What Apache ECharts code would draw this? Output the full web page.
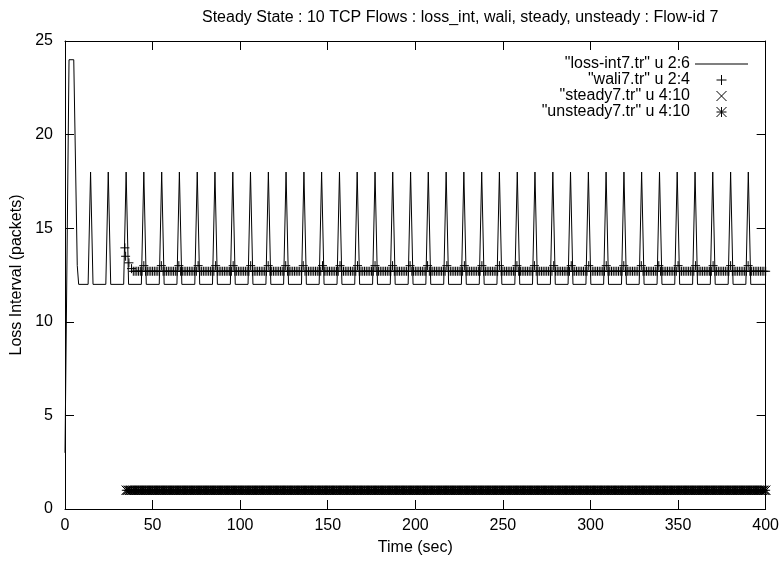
<!DOCTYPE html>
<html>
<head>
<meta charset="utf-8">
<script src="https://cdn.jsdelivr.net/npm/echarts@6/dist/echarts.min.js"></script>
<style>
html, body { margin: 0; padding: 0; background: #ffffff; }
#chart { width: 782px; height: 561px; }
</style>
</head>
<body>
<div id="chart"></div>
<script>
// ---------------- data ----------------
const titleText = 'Steady State : 10 TCP Flows : loss_int, wali, steady, unsteady : Flow-id 7';
const xAxisName = 'Time (sec)';
const yAxisName = 'Loss Interval (packets)';
const xTicks = [0, 50, 100, 150, 200, 250, 300, 350, 400];
const yTicks = [0, 5, 10, 15, 20, 25];
const seriesNames = ['"loss-int7.tr" u 2:6', '"wali7.tr" u 2:4', '"steady7.tr" u 4:10', '"unsteady7.tr" u 4:10'];

// loss-int7: initial transient, then a spike at each loss period
const lossStartTimes  = [0, 2.3, 5.0, 7.0, 7.8];
const lossStartValues = [3, 24, 24, 13, 12];
const spikeTimes = [14.6, 24.7, 34.9, 45.0, 55.2, 65.3, 75.5, 85.6, 95.8, 105.9,
                    116.1, 126.2, 136.4, 146.5, 156.7, 166.8, 177.0, 187.1, 197.3, 207.4,
                    217.6, 227.7, 237.9, 248.0, 258.2, 268.3, 278.5, 288.6, 298.8, 308.9,
                    319.1, 329.2, 339.4, 349.5, 359.7, 369.8, 380.0, 390.1];
const spikePeaks = [18, 18, 18, 18, 18, 18, 18, 18, 18, 18,
                    18, 18, 18, 18, 18, 18, 18, 18, 18, 18,
                    18, 18, 18, 18, 18, 18, 18, 18, 18, 18,
                    18, 18, 18, 18, 18, 18, 18, 18];
const lossBase = 12;          // value between spikes
const spikeHalfWidth = 1.4;   // seconds from base to peak
const lossEndTime = 400;

// wali7: a few early points, then one point per second from t = 40
const waliEarlyTimes  = [34.2, 34.6, 36.5, 38, 39];
const waliEarlyValues = [13.95, 13.5, 13.15, 12.84, 12.7];
const waliStart = 40;
const waliValues = [
  12.7,12.7,12.7,12.7,12.7,13.0,12.7,12.7,12.7,12.7,
  12.7,12.7,12.7,12.7,12.7,13.0,12.7,12.7,12.7,12.7,
  12.7,12.7,12.7,12.7,12.7,13.0,12.7,12.7,12.7,12.7,
  12.7,12.7,12.7,12.7,12.7,12.7,13.0,12.7,12.7,12.7,
  12.7,12.7,12.7,12.7,12.7,12.7,13.0,12.7,12.7,12.7,
  12.7,12.7,12.7,12.7,12.7,12.7,13.0,12.7,12.7,12.7,
  12.7,12.7,12.7,12.7,12.7,12.7,13.0,12.7,12.7,12.7,
  12.7,12.7,12.7,12.7,12.7,12.7,13.0,12.7,12.7,12.7,
  12.7,12.7,12.7,12.7,12.7,12.7,13.0,12.7,12.7,12.7,
  12.7,12.7,12.7,12.7,12.7,12.7,13.0,12.7,12.7,12.7,
  12.7,12.7,12.7,12.7,12.7,12.7,12.7,13.0,12.7,12.7,
  12.7,12.7,12.7,12.7,12.7,12.7,12.7,13.0,12.7,12.7,
  12.7,12.7,12.7,12.7,12.7,12.7,12.7,13.0,12.7,12.7,
  12.7,12.7,12.7,12.7,12.7,12.7,12.7,13.0,12.7,12.7,
  12.7,12.7,12.7,12.7,12.7,12.7,12.7,13.0,12.7,12.7,
  12.7,12.7,12.7,12.7,12.7,12.7,12.7,13.0,12.7,12.7,
  12.7,12.7,12.7,12.7,12.7,12.7,12.7,13.0,12.7,12.7,
  12.7,12.7,12.7,12.7,12.7,12.7,12.7,12.7,13.0,12.7,
  12.7,12.7,12.7,12.7,12.7,12.7,12.7,12.7,13.0,12.7,
  12.7,12.7,12.7,12.7,12.7,12.7,12.7,12.7,13.0,12.7,
  12.7,12.7,12.7,12.7,12.7,12.7,12.7,12.7,13.0,12.7,
  12.7,12.7,12.7,12.7,12.7,12.7,12.7,12.7,13.0,12.7,
  12.7,12.7,12.7,12.7,12.7,12.7,12.7,12.7,13.0,12.7,
  12.7,12.7,12.7,12.7,12.7,12.7,12.7,12.7,12.7,13.0,
  12.7,12.7,12.7,12.7,12.7,12.7,12.7,12.7,12.7,13.0,
  12.7,12.7,12.7,12.7,12.7,12.7,12.7,12.7,12.7,13.0,
  12.7,12.7,12.7,12.7,12.7,12.7,12.7,12.7,12.7,13.0,
  12.7,12.7,12.7,12.7,12.7,12.7,12.7,12.7,12.7,13.0,
  12.7,12.7,12.7,12.7,12.7,12.7,12.7,12.7,12.7,13.0,
  12.7,12.7,12.7,12.7,12.7,12.7,12.7,12.7,12.7,13.0,
  12.7,12.7,12.7,12.7,12.7,12.7,12.7,12.7,12.7,12.7,
  13.0,12.7,12.7,12.7,12.7,12.7,12.7,12.7,12.7,12.7,
  13.0,12.7,12.7,12.7,12.7,12.7,12.7,12.7,12.7,12.7,
  13.0,12.7,12.7,12.7,12.7,12.7,12.7,12.7,12.7,12.7,
  13.0,12.7,12.7,12.7,12.7,12.7,12.7,12.7,12.7,12.7,
  13.0,12.7,12.7,12.7,12.7,12.7,12.7,12.7,12.7,12.7,
  12.7
];

// steady7 / unsteady7: one point per second from t = 35
const steadyStart = 35;
const steadyValues = [
  1,1,1,1,1,
  1,1,1,1,1,1,1,1,1,1,1,1,1,1,1,1,1,1,1,1,
  1,1,1,1,1,1,1,1,1,1,1,1,1,1,1,1,1,1,1,1,
  1,1,1,1,1,1,1,1,1,1,1,1,1,1,1,1,1,1,1,1,
  1,1,1,1,1,1,1,1,1,1,1,1,1,1,1,1,1,1,1,1,
  1,1,1,1,1,1,1,1,1,1,1,1,1,1,1,1,1,1,1,1,
  1,1,1,1,1,1,1,1,1,1,1,1,1,1,1,1,1,1,1,1,
  1,1,1,1,1,1,1,1,1,1,1,1,1,1,1,1,1,1,1,1,
  1,1,1,1,1,1,1,1,1,1,1,1,1,1,1,1,1,1,1,1,
  1,1,1,1,1,1,1,1,1,1,1,1,1,1,1,1,1,1,1,1,
  1,1,1,1,1,1,1,1,1,1,1,1,1,1,1,1,1,1,1,1,
  1,1,1,1,1,1,1,1,1,1,1,1,1,1,1,1,1,1,1,1,
  1,1,1,1,1,1,1,1,1,1,1,1,1,1,1,1,1,1,1,1,
  1,1,1,1,1,1,1,1,1,1,1,1,1,1,1,1,1,1,1,1,
  1,1,1,1,1,1,1,1,1,1,1,1,1,1,1,1,1,1,1,1,
  1,1,1,1,1,1,1,1,1,1,1,1,1,1,1,1,1,1,1,1,
  1,1,1,1,1,1,1,1,1,1,1,1,1,1,1,1,1,1,1,1,
  1,1,1,1,1,1,1,1,1,1,1,1,1,1,1,1,1,1,1,1,
  1,1,1,1,1,1,1,1,1,1,1,1,1,1,1,1,1,1,1,1,
  1
];
const unsteadyStart = 35;
const unsteadyValues = [
  1,1,1,1,1,
  1,1,1,1,1,1,1,1,1,1,1,1,1,1,1,1,1,1,1,1,
  1,1,1,1,1,1,1,1,1,1,1,1,1,1,1,1,1,1,1,1,
  1,1,1,1,1,1,1,1,1,1,1,1,1,1,1,1,1,1,1,1,
  1,1,1,1,1,1,1,1,1,1,1,1,1,1,1,1,1,1,1,1,
  1,1,1,1,1,1,1,1,1,1,1,1,1,1,1,1,1,1,1,1,
  1,1,1,1,1,1,1,1,1,1,1,1,1,1,1,1,1,1,1,1,
  1,1,1,1,1,1,1,1,1,1,1,1,1,1,1,1,1,1,1,1,
  1,1,1,1,1,1,1,1,1,1,1,1,1,1,1,1,1,1,1,1,
  1,1,1,1,1,1,1,1,1,1,1,1,1,1,1,1,1,1,1,1,
  1,1,1,1,1,1,1,1,1,1,1,1,1,1,1,1,1,1,1,1,
  1,1,1,1,1,1,1,1,1,1,1,1,1,1,1,1,1,1,1,1,
  1,1,1,1,1,1,1,1,1,1,1,1,1,1,1,1,1,1,1,1,
  1,1,1,1,1,1,1,1,1,1,1,1,1,1,1,1,1,1,1,1,
  1,1,1,1,1,1,1,1,1,1,1,1,1,1,1,1,1,1,1,1,
  1,1,1,1,1,1,1,1,1,1,1,1,1,1,1,1,1,1,1,1,
  1,1,1,1,1,1,1,1,1,1,1,1,1,1,1,1,1,1,1,1,
  1,1,1,1,1,1,1,1,1,1,1,1,1,1,1,1,1,1,1,1,
  1,1,1,1,1,1,1,1,1,1,1,1,1,1,1,1,1,1,1,1,
  1
];

// ---------------- build series data ----------------
const lossData = [];
lossStartTimes.forEach((t, i) => lossData.push([t, lossStartValues[i]]));
spikeTimes.forEach((s, i) => {
  lossData.push([s - spikeHalfWidth, lossBase]);
  lossData.push([s, spikePeaks[i]]);
  lossData.push([s + spikeHalfWidth, lossBase]);
});
lossData.push([lossEndTime, lossBase]);

const waliData = waliEarlyTimes.map((t, i) => [t, waliEarlyValues[i]])
  .concat(waliValues.map((v, i) => [waliStart + i, v]));
const steadyData = steadyValues.map((v, i) => [steadyStart + i, v]);
const unsteadyData = unsteadyValues.map((v, i) => [unsteadyStart + i, v]);

// ---------------- chart ----------------
const FONT = '"Liberation Sans", Arial, sans-serif';
const FS = 16;
const BLACK = '#000000';
const SYM_PLUS  = 'path://M0,5L10,5M5,0L5,10';
const SYM_CROSS = 'path://M0,0L10,10M10,0L0,10';
const SYM_STAR  = 'path://M0,5L10,5M5,0L5,10M0,0L10,10M10,0L0,10';
const ICON_LINE = 'path://M0,0L53,0L53,1L0,1Z';

function makeAxis(ticks, extra) {
  return Object.assign({
    type: 'value',
    min: ticks[0],
    max: ticks[ticks.length - 1],
    interval: ticks[1] - ticks[0],
    axisLine: { show: true, onZero: false, lineStyle: { color: BLACK, width: 1 } },
    axisTick: { show: true, inside: true, length: 9, lineStyle: { color: BLACK, width: 1 } },
    splitLine: { show: false },
    axisLabel: { show: true, color: BLACK, fontSize: FS, fontFamily: FONT }
  }, extra);
}

const strokeIcon = { color: 'none', borderColor: BLACK, borderWidth: 1 };

const chart = echarts.init(document.getElementById('chart'), null, { renderer: 'canvas' });
chart.setOption({
  animation: false,
  backgroundColor: '#ffffff',
  title: {
    text: titleText,
    left: 197,
    top: 5,
    textStyle: { color: BLACK, fontSize: FS, fontWeight: 'normal', fontFamily: FONT }
  },
  grid: { left: 65, right: 15, top: 41, bottom: 50, containLabel: false },
  xAxis: [
    makeAxis(xTicks, {
      position: 'bottom',
      axisLabel: { show: true, color: BLACK, fontSize: FS, fontFamily: FONT, margin: 9 },
      name: xAxisName, nameLocation: 'middle', nameGap: 31,
      nameTextStyle: { color: BLACK, fontSize: FS, fontFamily: FONT }
    }),
    makeAxis(xTicks, { position: 'top', axisLabel: { show: false } })
  ],
  yAxis: [
    makeAxis(yTicks, {
      position: 'left',
      axisLabel: { show: true, color: BLACK, fontSize: FS, fontFamily: FONT, margin: 12 },
      name: yAxisName, nameLocation: 'middle', nameGap: 37, nameRotate: 90,
      nameTextStyle: { color: BLACK, fontSize: FS, fontFamily: FONT }
    }),
    makeAxis(yTicks, { position: 'right', axisLabel: { show: false } })
  ],
  legend: {
    orient: 'vertical',
    align: 'right',
    right: 29,
    top: 51,
    itemWidth: 53,
    itemHeight: 10,
    itemGap: 0,
    selectedMode: false,
    textStyle: { color: BLACK, fontSize: FS, fontFamily: FONT },
    data: [
      { name: seriesNames[0], icon: ICON_LINE, itemStyle: { color: BLACK, borderWidth: 0 } },
      { name: seriesNames[1], itemStyle: strokeIcon },
      { name: seriesNames[2], itemStyle: strokeIcon },
      { name: seriesNames[3], itemStyle: strokeIcon }
    ]
  },
  series: [
    {
      name: seriesNames[0], type: 'line', data: lossData,
      xAxisIndex: 0, yAxisIndex: 0,
      symbol: 'none', lineStyle: { color: BLACK, width: 1 }, itemStyle: { color: BLACK },
      z: 3
    },
    {
      name: seriesNames[1], type: 'scatter', data: waliData,
      xAxisIndex: 0, yAxisIndex: 0,
      symbol: SYM_PLUS, symbolSize: 9,
      itemStyle: { color: 'none', borderColor: BLACK, borderWidth: 1, opacity: 1 },
      z: 4
    },
    {
      name: seriesNames[2], type: 'scatter', data: steadyData,
      xAxisIndex: 0, yAxisIndex: 0,
      symbol: SYM_CROSS, symbolSize: 9,
      itemStyle: { color: 'none', borderColor: BLACK, borderWidth: 1, opacity: 1 },
      z: 4
    },
    {
      name: seriesNames[3], type: 'scatter', data: unsteadyData,
      xAxisIndex: 0, yAxisIndex: 0,
      symbol: SYM_STAR, symbolSize: 9,
      itemStyle: { color: 'none', borderColor: BLACK, borderWidth: 1, opacity: 1 },
      z: 4
    }
  ]
});
</script>
</body>
</html>
